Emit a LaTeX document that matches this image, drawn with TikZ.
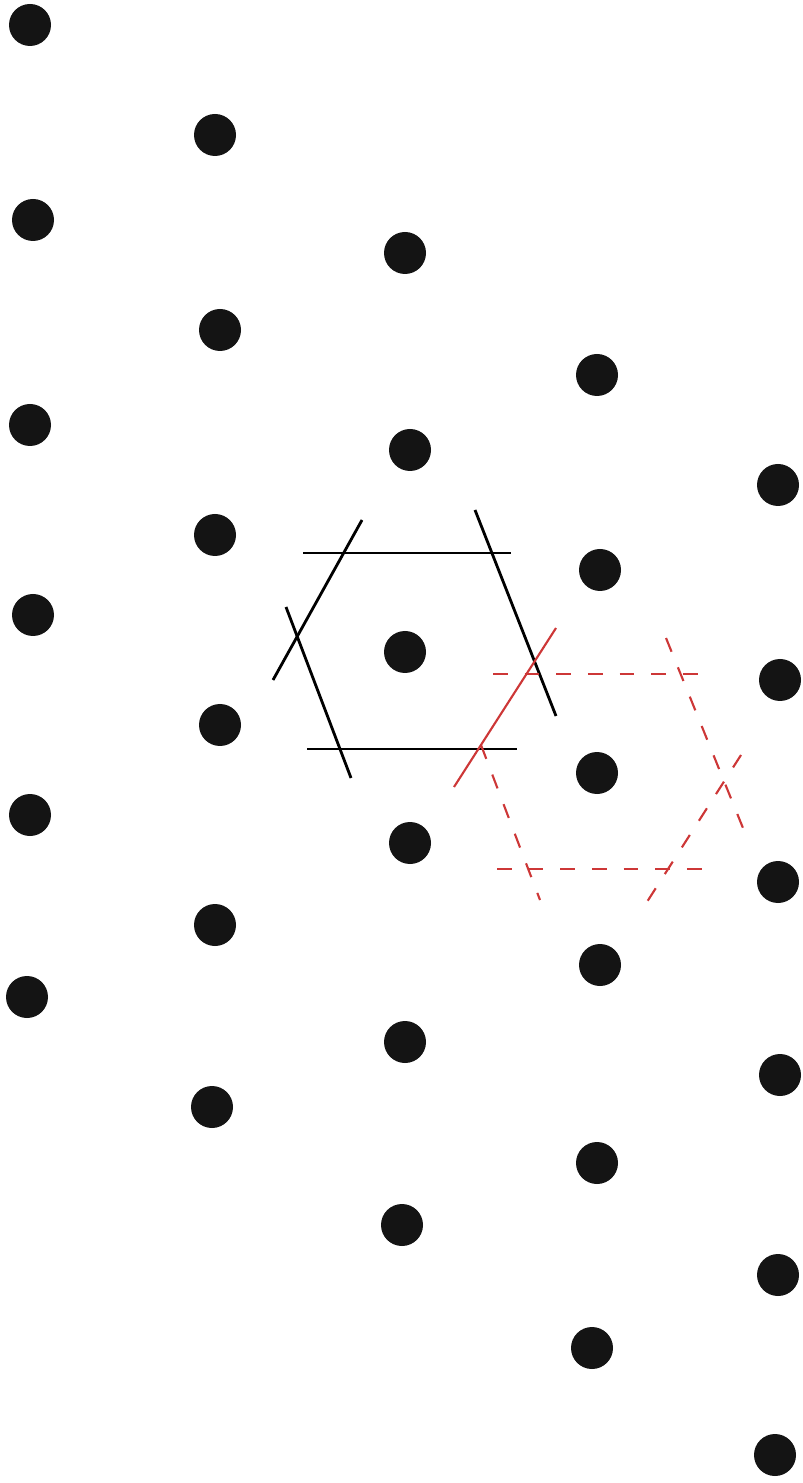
\documentclass[tikz,border=0pt]{standalone}
\usepackage{xcolor}
\usepackage{tikz}
\usetikzlibrary{calc}
\definecolor{cellred}{RGB}{205,55,55}
\tikzset{
  atom/.style={fill=black!92},
  cellline/.style={thick, black},
  cellredline/.style={semithick, cellred},
  celldash/.style={semithick, cellred, dash pattern=on 4.2pt off 4.8pt}
}

\begin{document}
\begin{tikzpicture}[x=0.01cm,y=-0.01cm]
\useasboundingbox (0,0) rectangle (802,1483);
% lattice points, column by column
\foreach \px/\py in {30/25, 33/220, 30/425, 33/615, 30/815, 27/997,
  215/135, 220/330, 215/535, 220/725, 215/925, 212/1107,
  405/253, 410/450, 405/652, 410/843, 405/1042, 402/1225,
  597/375, 600/570, 597/773, 600/965, 597/1163, 592/1348,
  778/485, 780/680, 778/882, 780/1075, 778/1275, 775/1455}
  \fill[atom] (\px,\py) circle (21);
% black cell
\draw[cellline] (303,553) -- (511,553);
\draw[cellline] (307,749) -- (517,749);
\draw[cellline] (362,520) -- (273,680);
\draw[cellline] (286,607) -- (351,778);
\draw[cellline] (475,510) -- (556,716);
% red cell
\draw[cellredline] (556,628) -- (454,787);
\draw[celldash] (493,674) -- (712,674);
\draw[celldash] (497,869) -- (712,869);
\draw[celldash] (666,638) -- (745,833);
\draw[celldash] (741,755) -- (645,905);
\draw[celldash] (481,745) -- (540,900);
\end{tikzpicture}
\end{document}
